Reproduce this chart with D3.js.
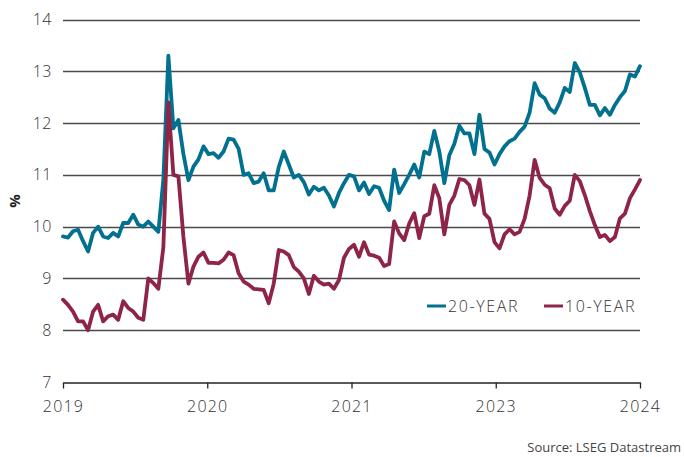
<!DOCTYPE html>
<html>
<head>
<meta charset="utf-8">
<script src="https://cdn.jsdelivr.net/npm/d3@7"></script>
<style>
  html, body { margin: 0; padding: 0; background: #fff; }
  svg { display: block; }
  text { font-family: "Open Sans", "Lato", sans-serif; }
</style>
</head>
<body>
<svg id="chart" width="684" height="457"></svg>
<script>
// ---- Data (evenly spaced observations across the period) ----
const tickLabels = ["2019", "2020", "2021", "2023", "2024"];
const yTicks = [7, 8, 9, 10, 11, 12, 13, 14];
const seriesNames = ["20-YEAR", "10-YEAR"];

const twentyYear = [
  9.81, 9.79, 9.91, 9.94, 9.72, 9.52, 9.88, 10.0, 9.81, 9.78,
  9.88, 9.81, 10.07, 10.07, 10.23, 10.04, 10.0, 10.1, 10.0, 9.9,
  10.9, 13.3, 11.9, 12.06, 11.4, 10.9, 11.16, 11.3, 11.55, 11.4,
  11.42, 11.33, 11.45, 11.7, 11.68, 11.5, 11.0, 11.03, 10.84, 10.87,
  11.03, 10.7, 10.7, 11.15, 11.45, 11.2, 10.95, 11.0, 10.86, 10.62,
  10.77, 10.7, 10.75, 10.6, 10.39, 10.65, 10.84, 11.0, 10.97, 10.7,
  10.85, 10.63, 10.78, 10.75, 10.5, 10.32, 11.1, 10.65, 10.82, 11.0,
  11.2, 10.95, 11.45, 11.4, 11.85, 11.45, 10.84, 11.38, 11.6, 11.95,
  11.8, 11.8, 11.4, 12.16, 11.5, 11.43, 11.2, 11.4, 11.55, 11.65,
  11.7, 11.83, 11.93, 12.2, 12.77, 12.55, 12.48, 12.28, 12.2, 12.4,
  12.68, 12.6, 13.16, 12.98, 12.68, 12.35, 12.35, 12.15, 12.29, 12.16,
  12.35, 12.5, 12.62, 12.94, 12.9, 13.1
];

const tenYear = [
  8.59, 8.49, 8.36, 8.17, 8.17, 8.0, 8.36, 8.49, 8.17, 8.27,
  8.3, 8.2, 8.56, 8.43, 8.36, 8.24, 8.2, 9.0, 8.91, 8.8,
  9.6, 12.4, 11.0, 10.97, 9.8, 8.9, 9.23, 9.42, 9.5, 9.3,
  9.3, 9.29, 9.36, 9.5, 9.45, 9.1, 8.94, 8.88, 8.8, 8.79,
  8.78, 8.52, 8.9, 9.55, 9.52, 9.45, 9.22, 9.13, 9.0, 8.7,
  9.05, 8.94, 8.88, 8.9, 8.8, 8.97, 9.4, 9.57, 9.65, 9.42,
  9.7, 9.46, 9.44, 9.4, 9.24, 9.28, 10.1, 9.87, 9.74, 10.06,
  10.26, 9.78, 10.2, 10.25, 10.8, 10.55, 9.85, 10.42, 10.6, 10.92,
  10.9, 10.8, 10.42, 10.91, 10.25, 10.15, 9.7, 9.58, 9.85, 9.95,
  9.85, 9.9, 10.15, 10.6, 11.29, 10.94, 10.81, 10.74, 10.35, 10.23,
  10.4, 10.5, 11.0, 10.88, 10.61, 10.3, 10.03, 9.8, 9.84, 9.72,
  9.8, 10.16, 10.25, 10.55, 10.72, 10.9
];

const colors = { "20-YEAR": "#02708f", "10-YEAR": "#8f2546" };

// ---- Layout ----
const svg = d3.select("#chart");
const margin = { left: 63, right: 44, top: 19.5, bottom: 75 };
const W = 684, H = 457;

const n = twentyYear.length;
const x = d3.scaleLinear().domain([0, n - 1]).range([margin.left, W - margin.right]);
const y = d3.scaleLinear().domain([7, 14]).range([H - margin.bottom, margin.top]);

// Gridlines
svg.append("g")
  .selectAll("line")
  .data(yTicks.filter(d => d > 7))
  .join("line")
  .attr("x1", x(0)).attr("x2", x(n - 1))
  .attr("y1", d => Math.round(y(d)) + 0.5).attr("y2", d => Math.round(y(d)) + 0.5)
  .attr("stroke", "#4a4a4a").attr("stroke-width", 1.3);

// Y labels
svg.append("g")
  .selectAll("text")
  .data(yTicks)
  .join("text")
  .attr("x", 52)
  .attr("y", d => y(d))
  .attr("dy", "0.35em")
  .attr("text-anchor", "end")
  .attr("font-size", 16)
  .attr("font-weight", 300)
  .attr("letter-spacing", 0.5)
  .attr("fill", "#333")
  .text(d => d);

// X axis
const tickPos = tickLabels.map((_, i) => (n - 1) * i / (tickLabels.length - 1));
const xAxis = d3.axisBottom(x)
  .tickValues(tickPos)
  .tickFormat((d, i) => tickLabels[i])
  .tickSize(6)
  .tickSizeOuter(0)
  .tickPadding(12);
const gx = svg.append("g")
  .attr("transform", `translate(0,${Math.round(y(7)) + 0.5})`)
  .call(xAxis);
gx.select(".domain").attr("stroke", "#222").attr("stroke-width", 1.3);
gx.selectAll(".tick line").attr("stroke", "#222").attr("stroke-width", 1.3);
gx.selectAll(".tick text")
  .attr("font-family", "'Open Sans', Lato, sans-serif")
  .attr("font-size", 16)
  .attr("font-weight", 300)
  .attr("letter-spacing", 1.2)
  .attr("fill", "#333");

// Y axis title
svg.append("text")
  .attr("transform", `translate(20,201) rotate(-90)`)
  .attr("text-anchor", "middle")
  .attr("font-size", 15)
  .attr("font-weight", 700)
  .attr("fill", "#222")
  .text("%");

// Lines
const line = d3.line()
  .x((d, i) => x(i))
  .y(d => y(d))
  .curve(d3.curveLinear);

[["20-YEAR", twentyYear], ["10-YEAR", tenYear]].forEach(([name, vals]) => {
  svg.append("path")
    .datum(vals)
    .attr("fill", "none")
    .attr("stroke", colors[name])
    .attr("stroke-width", 3.8)
    .attr("stroke-linejoin", "round")
    .attr("stroke-linecap", "round")
    .attr("d", line);
});

// Legend
const legend = svg.append("g").attr("transform", "translate(427,306)");
const legendItems = [
  { name: seriesNames[0], x0: 0 },
  { name: seriesNames[1], x0: 117 }
];
legendItems.forEach(it => {
  legend.append("line")
    .attr("x1", it.x0).attr("x2", it.x0 + 19)
    .attr("y1", 0).attr("y2", 0)
    .attr("stroke", colors[it.name]).attr("stroke-width", 3);
  legend.append("text")
    .attr("x", it.x0 + 21)
    .attr("y", 0)
    .attr("dy", "0.35em")
    .attr("font-size", 16)
    .attr("font-weight", 300)
    .attr("letter-spacing", 1.6)
    .attr("fill", "#333")
    .text(it.name);
});

// Source
svg.append("text")
  .attr("x", 681)
  .attr("y", 452)
  .attr("text-anchor", "end")
  .attr("font-family", "'DejaVu Sans Condensed', 'Liberation Sans Narrow', sans-serif")
  .attr("font-size", 13)
  .attr("fill", "#444")
  .text("Source: LSEG Datastream");
</script>
</body>
</html>
